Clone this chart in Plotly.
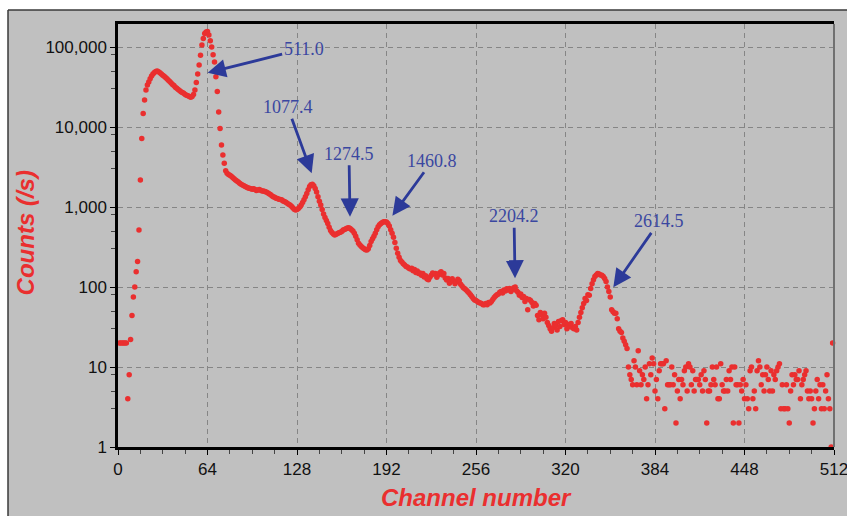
import math
import plotly.graph_objects as go

# ---------------- data ----------------
counts_ch001_063 = [20, 20, 20, 20, 20, 20, 4, 8, 22, 44, 75, 100, 155, 208, 515, 2180, 7200, 14800, 21800, 29000,
                    33500, 36500, 40000, 43500, 46000, 48000, 49500, 50000, 49000, 47500,
                    46000, 44500, 43000, 41500, 40000, 38500, 37000, 35500, 34000, 33000,
                    31500, 30500, 29500, 28500, 27500, 27000, 26500, 25500, 25000, 24500,
                    24000, 23500, 24000, 25500, 29000, 36000, 46000, 59600, 79000, 106000,
                    128000, 148000, 154000]
counts_ch064_127 = [156000, 141000, 120000, 100000, 80000, 65000, 42600, 27800, 15400, 9600,
                    5960, 4470, 3520, 2830, 2650, 2550, 2500, 2420, 2330, 2250,
                    2180, 2120, 2050, 1980, 1930, 1880, 1840, 1800, 1760, 1730,
                    1710, 1690, 1670, 1690, 1650, 1610, 1630, 1660, 1620, 1580,
                    1580, 1560, 1540, 1510, 1460, 1430, 1380, 1340, 1320, 1290,
                    1280, 1250, 1240, 1230, 1190, 1170, 1150, 1110, 1080, 1060,
                    1020, 980, 940, 915]
counts_ch128_191 = [930, 960, 1000, 1060, 1140, 1230, 1340, 1480, 1640, 1800,
                    1900, 1920, 1850, 1700, 1540, 1340, 1180, 1060, 930, 820,
                    740, 680, 620, 560, 510, 480, 460, 447, 455, 465,
                    475, 485, 495, 515, 525, 535, 545, 550, 540, 520,
                    500, 470, 430, 390, 352, 335, 320, 310, 300, 292,
                    290, 300, 330, 370, 400, 430, 470, 520, 565, 600,
                    620, 640, 655, 655]
counts_ch192_255 = [650, 620, 580, 520, 470, 420, 360, 305, 265, 235,
                    215, 205, 195, 188, 180, 178, 172, 168, 171, 160,
                    166, 152, 158, 148, 150, 140, 147, 133, 138, 126,
                    123, 132, 140, 150, 145, 148, 132, 142, 150, 155,
                    141, 148, 130, 122, 128, 111, 120, 127, 118, 110,
                    116, 125, 120, 108, 103, 98, 95, 92, 88, 84,
                    80, 76, 72, 69]
counts_ch256_319 = [68, 66, 64, 63, 62, 60, 60, 62, 60, 64,
                    63, 66, 70, 74, 77, 80, 82, 86, 88, 84,
                    92, 89, 95, 92, 96, 88, 93, 98, 100, 90,
                    86, 79, 82, 74, 76, 66, 72, 52, 70, 68,
                    64, 58, 62, 59, 44, 39, 48, 45, 40, 47,
                    42, 36, 33, 30, 28, 31, 35, 33, 29, 37,
                    32, 38, 39, 34]
counts_ch320_383 = [36, 30, 34, 32, 35, 31, 30, 32, 29, 36,
                    42, 48, 55, 62, 72, 68, 80, 79, 96, 110,
                    123, 135, 141, 148, 145, 141, 140, 135, 128, 117,
                    100, 88, 75, 52, 49, 47, 47, 40, 30, 28,
                    27, 23, 21, 19, 17, 10, 8, 7, 6, 12,
                    10, 6, 16, 9, 6, 8, 7, 10, 4, 6,
                    11, 8, 13, 11]
counts_ch384_447 = [5, 7, 4, 9, 11, 11, 11, 3, 12, 6,
                    6, 6, 10, 6, 8, 2, 5, 7, 4, 7,
                    6, 9, 10, 5, 11, 10, 6, 9, 5, 7,
                    7, 7, 6, 8, 5, 9, 7, 2, 5, 5,
                    6, 10, 7, 6, 10, 4, 4, 11, 6, 5,
                    5, 7, 5, 9, 7, 10, 2, 10, 6, 6,
                    2, 6, 5, 7]
counts_ch448_511 = [4, 6, 4, 3, 9, 10, 4, 5, 3, 9,
                    12, 10, 6, 8, 5, 8, 10, 7, 5, 9,
                    5, 8, 7, 9, 10, 11, 3, 6, 3, 3,
                    6, 3, 2, 5, 8, 6, 8, 7, 7, 9,
                    4, 6, 7, 8, 9, 5, 4, 5, 4, 2,
                    3, 5, 7, 4, 6, 3, 6, 3, 5, 8,
                    4, 3, 1, 20]

counts = (counts_ch001_063 + counts_ch064_127 + counts_ch128_191 + counts_ch192_255 +
          counts_ch256_319 + counts_ch320_383 + counts_ch384_447 + counts_ch448_511)
channels = list(range(1, 1 + len(counts)))

x_tick_vals = [0, 64, 128, 192, 256, 320, 384, 448, 512]
y_tick_vals = [1, 10, 100, 1000, 10000, 100000]
y_tick_text = ["1", "10", "100", "1,000", "10,000", "100,000"]
y_minor_vals = [3, 5, 8, 30, 50, 80, 300, 500, 800, 3000, 5000, 8000,
                30000, 50000, 80000, 300000]

peak_labels = ["511.0", "1077.4", "1274.5", "1460.8", "2204.2", "2614.5"]
peak_tip_channel = [64.1, 138.5, 165.9, 196.2, 283.9, 354.2]
peak_tip_counts = [47600, 2640, 757, 778, 128.5, 99]
label_dx = [96, -24, -1, 40, -1, 46]
label_dy = [-24, -66, -63, -55, -62, -66]

# ---------------- figure ----------------
RED = "#ea2f2f"
BG = "#c0c0c0"
L, R, T, B = 118, 13, 24, 69
W, H = 847, 516
pw, ph = W - L - R, H - T - B

fig = go.Figure()
fig.add_trace(go.Scatter(
    x=channels, y=counts, mode="markers",
    marker=dict(color=RED, size=5.5, line=dict(width=0)),
    cliponaxis=False, showlegend=False,
))

annotations = []
for lab, cx, cy, dx, dy in zip(peak_labels, peak_tip_channel, peak_tip_counts, label_dx, label_dy):
    annotations.append(dict(
        x=cx, y=math.log10(cy), xref="x", yref="y", ax=dx, ay=dy,
        text=lab, showarrow=True, arrowhead=2, arrowsize=1.3, arrowwidth=2.8,
        arrowcolor="#2c3a99", standoff=0, startstandoff=0,
        font=dict(family="Liberation Serif, Times New Roman, serif", size=18, color="#3a47a0"),
    ))
# axis titles
annotations.append(dict(
    text="<b><i>Channel number</i></b>", xref="paper", yref="paper",
    x=0.5, y=(-50) / ph, xanchor="center", yanchor="middle", showarrow=False,
    font=dict(family="Liberation Sans, Arial, sans-serif", size=24, color=RED),
))
annotations.append(dict(
    text="<b><i>Counts (/s)</i></b>", xref="paper", yref="paper",
    x=(25 - L) / pw, y=0.505, xanchor="center", yanchor="middle", showarrow=False,
    textangle=-90,
    font=dict(family="Liberation Sans, Arial, sans-serif", size=24, color=RED),
))

x_left = (8 - L) / pw
y_top = 1 + (T - 10) / ph
shapes = [
    # white strips above and left of the grey panel
    dict(type="rect", xref="paper", yref="paper", layer="below",
         x0=-0.5, x1=1.5, y0=y_top, y1=1.5, fillcolor="white", line=dict(width=0)),
    dict(type="rect", xref="paper", yref="paper", layer="below",
         x0=-0.5, x1=x_left, y0=-0.5, y1=1.5, fillcolor="white", line=dict(width=0)),
    # panel border: top and left
    dict(type="line", xref="paper", yref="paper", x0=x_left, x1=1.5, y0=y_top, y1=y_top,
         line=dict(color="#3a3a3a", width=1.5)),
    dict(type="line", xref="paper", yref="paper", x0=x_left, x1=x_left, y0=-0.5, y1=y_top,
         line=dict(color="#3a3a3a", width=1.5)),
    # right frame edge in grey
    dict(type="line", xref="paper", yref="paper", x0=1, x1=1, y0=0, y1=1,
         line=dict(color="#707070", width=2)),
]

fig.update_layout(
    width=W, height=H, autosize=False,
    margin=dict(l=L, r=R, t=T, b=B, pad=0),
    paper_bgcolor=BG, plot_bgcolor=BG,
    annotations=annotations, shapes=shapes,
    font=dict(family="Liberation Sans, Arial, sans-serif", size=17, color="#111111"),
)
fig.update_xaxes(
    range=[0, 512], tickvals=x_tick_vals, ticks="outside", ticklen=5, tickwidth=1,
    tickcolor="black", showline=True, linecolor="black", linewidth=2.5, mirror=True,
    showgrid=True, gridcolor="#858585", gridwidth=1, griddash="5px,4px", zeroline=False,
    minor=dict(dtick=16, tick0=0, ticks="outside", ticklen=4, tickcolor="#444", showgrid=False),
    tickfont=dict(size=17, color="#111111"), ticklabeloverflow="allow", automargin=False,
)
fig.update_yaxes(
    type="log", range=[0, 5.2875], tickvals=y_tick_vals, ticktext=y_tick_text,
    ticks="outside", ticklen=5, tickwidth=1, tickcolor="black",
    showline=True, linecolor="black", linewidth=2.5, mirror=False,
    showgrid=True, gridcolor="#858585", gridwidth=1, griddash="5px,4px", zeroline=False,
    minor=dict(tickvals=y_minor_vals, ticks="outside", ticklen=4, tickcolor="#444", showgrid=False),
    tickfont=dict(size=17, color="#111111"), automargin=False,
)

fig.write_html(
    "out.html",
    config={"displayModeBar": False},
    post_script="document.body.style.margin='0';document.body.style.overflow='hidden';",
)
